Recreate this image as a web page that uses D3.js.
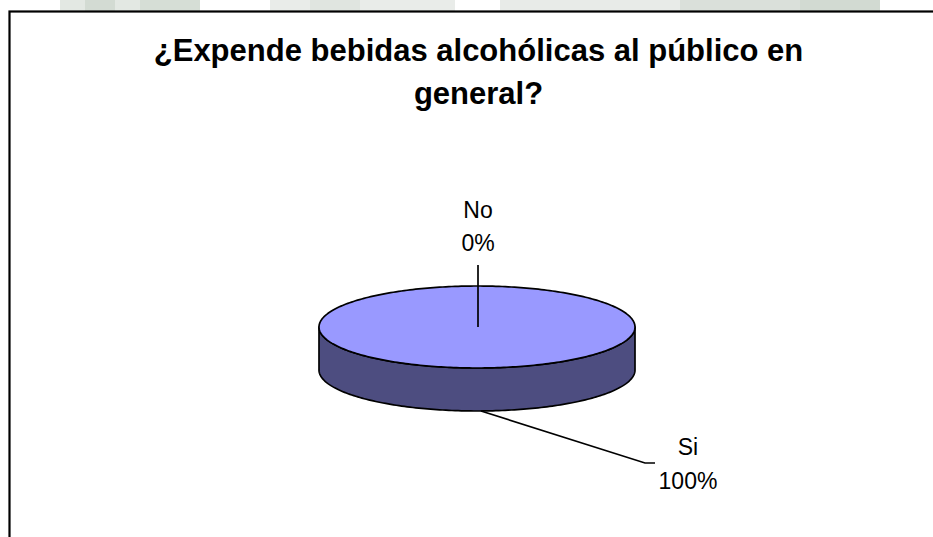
<!DOCTYPE html>
<html>
<head>
<meta charset="utf-8">
<script src="https://cdn.jsdelivr.net/npm/d3@7"></script>
<style>
  body { margin: 0; background: #fff; }
  svg { display: block; font-family: "Liberation Sans", Arial, sans-serif; }
</style>
</head>
<body>
<div id="chart"></div>
<script>
// chart data
var titleLines = ["¿Expende bebidas alcohólicas al público en", "general?"];
var categories = ["Si", "No"];
var values = [100, 0];
var sliceColors = ["#9999FF", "#9999FF"];

var width = 933, height = 537;

var svg = d3.select("#chart")
  .append("svg")
  .attr("width", width)
  .attr("height", height);

// faint watermark strip above the frame
var wm = [[60, 140, "#e3e8e3"], [85, 30, "#d3dbd3"], [140, 60, "#d6ded6"], [270, 185, "#e9ece9"],
          [310, 50, "#e0e5e0"], [500, 180, "#e8ebe8"], [680, 120, "#dae0da"], [800, 80, "#d2dad2"]];
svg.selectAll(".wm")
  .data(wm)
  .enter().append("rect")
  .attr("class", "wm")
  .attr("x", function(d) { return d[0]; })
  .attr("y", 0)
  .attr("width", function(d) { return d[1]; })
  .attr("height", 11)
  .style("fill", function(d) { return d[2]; });

// chart frame (runs off the right and bottom edges)
svg.append("rect")
  .attr("x", 9.5)
  .attr("y", 11.5)
  .attr("width", 1000)
  .attr("height", 1000)
  .style("fill", "white")
  .style("stroke", "black")
  .style("stroke-width", 2.2);

// title
svg.append("text")
  .attr("x", 478.5)
  .attr("y", 61)
  .attr("text-anchor", "middle")
  .style("font-size", "31px")
  .style("font-weight", "bold")
  .selectAll("tspan")
  .data(titleLines)
  .enter().append("tspan")
  .attr("x", 478.5)
  .attr("dy", function(d, i) { return i == 0 ? 0 : 43; })
  .text(function(d) { return d; });

// 3d pie geometry
var cx = 477, cy = 327, rx = 158, ry = 41, depth = 43;

var data = categories.map(function(c, i) { return {name: c, value: values[i], color: sliceColors[i]}; });
var total = d3.sum(values);
var pct = d3.format(".0%");

var pie = d3.pie()
  .sort(null)
  .value(function(d) { return d.value; });
var arcs = pie(data);

function pt(a, dy) {
  return [cx + rx * Math.sin(a), cy - ry * Math.cos(a) + (dy || 0)];
}
function arcPoints(a0, a1, dy) {
  var n = Math.max(2, Math.ceil(Math.abs(a1 - a0) / 0.02));
  return d3.range(n + 1).map(function(i) { return pt(a0 + (a1 - a0) * i / n, dy); });
}
var line = d3.line();

var g = svg.append("g");

// side walls (only the front half is visible)
arcs.forEach(function(d) {
  var a0 = Math.max(d.startAngle, Math.PI / 2);
  var a1 = Math.min(d.endAngle, Math.PI * 1.5);
  if (a1 <= a0) return;
  var pts = arcPoints(a0, a1, 0).concat(arcPoints(a1, a0, depth));
  g.append("path")
    .attr("d", line(pts) + "Z")
    .style("fill", d3.color(d.data.color).darker(1.94).formatHex())
    .style("stroke", "black")
    .style("stroke-width", 1.7)
    .style("stroke-linejoin", "round");
});

// top faces
arcs.forEach(function(d) {
  if (d.endAngle - d.startAngle <= 0) return;
  var pts = arcPoints(d.startAngle, d.endAngle, 0);
  var full = d.endAngle - d.startAngle >= Math.PI * 2 - 1e-6;
  if (!full) pts = [[cx, cy]].concat(pts);
  g.append("path")
    .attr("d", line(pts) + "Z")
    .style("fill", d.data.color)
    .style("stroke", "black")
    .style("stroke-width", 1.7)
    .style("stroke-linejoin", "round");
});

// data labels with leader lines
arcs.forEach(function(d) {
  var mid = (d.startAngle + d.endAngle) / 2;
  var lab = svg.append("g").style("font-size", "23px");
  var lines;
  if (d.value == 0) {
    // empty slice: leader points to the pie centre, label above the pie
    var top = pt(mid, 0);
    lines = [[cx + 1, top[1] - 21], [cx + 1, cy]];
    lab.append("text").attr("x", cx + 1).attr("y", top[1] - 68).attr("text-anchor", "middle").text(d.data.name);
    lab.append("text").attr("x", cx + 1).attr("y", top[1] - 35).attr("text-anchor", "middle").text(pct(d.value / total));
  } else {
    var a = pt(mid, depth);
    a[0] += 4;
    lines = [a, [a[0] + 164, a[1] + 52], [a[0] + 174, a[1] + 52]];
    lab.append("text").attr("x", a[0] + 207).attr("y", a[1] + 44).attr("text-anchor", "middle").text(d.data.name);
    lab.append("text").attr("x", a[0] + 207).attr("y", a[1] + 78).attr("text-anchor", "middle").text(pct(d.value / total));
  }
  svg.append("path")
    .attr("d", line(lines))
    .style("fill", "none")
    .style("stroke", "black")
    .style("stroke-width", 1.7);
});
</script>
</body>
</html>
